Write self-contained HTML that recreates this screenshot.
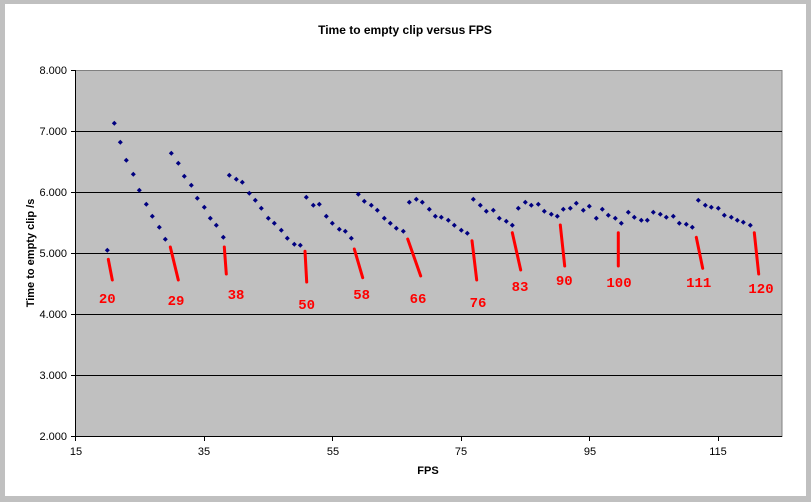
<!DOCTYPE html>
<html><head><meta charset="utf-8"><style>
html,body{margin:0;padding:0;background:#c0c0c0;}
svg{display:block;}
text{font-family:"Liberation Sans",Arial,sans-serif;}
text.r{font-family:"Liberation Mono","DejaVu Sans Mono",monospace;}
</style></head><body>
<svg width="811" height="502" xmlns="http://www.w3.org/2000/svg">
<rect x="0" y="0" width="811" height="502" fill="#c0c0c0"/>
<rect x="5" y="4" width="801" height="492" fill="#ffffff"/>
<rect x="75.5" y="70.5" width="706.5" height="366" fill="#c0c0c0" stroke="#808080" stroke-width="1"/>
<g stroke="#000" stroke-width="1">
<line x1="75.5" y1="131.5" x2="782" y2="131.5"/>
<line x1="75.5" y1="192.5" x2="782" y2="192.5"/>
<line x1="75.5" y1="253.5" x2="782" y2="253.5"/>
<line x1="75.5" y1="314.5" x2="782" y2="314.5"/>
<line x1="75.5" y1="375.5" x2="782" y2="375.5"/>
<line x1="75.5" y1="436.5" x2="782" y2="436.5"/>
<line x1="75.5" y1="70" x2="75.5" y2="437"/>
<line x1="71" y1="70.5" x2="75.5" y2="70.5"/>
<line x1="71" y1="131.5" x2="75.5" y2="131.5"/>
<line x1="71" y1="192.5" x2="75.5" y2="192.5"/>
<line x1="71" y1="253.5" x2="75.5" y2="253.5"/>
<line x1="71" y1="314.5" x2="75.5" y2="314.5"/>
<line x1="71" y1="375.5" x2="75.5" y2="375.5"/>
<line x1="71" y1="436.5" x2="75.5" y2="436.5"/>
<line x1="75.5" y1="436" x2="75.5" y2="441"/>
<line x1="204.5" y1="436" x2="204.5" y2="441"/>
<line x1="332.5" y1="436" x2="332.5" y2="441"/>
<line x1="461.5" y1="436" x2="461.5" y2="441"/>
<line x1="589.5" y1="436" x2="589.5" y2="441"/>
<line x1="718.5" y1="436" x2="718.5" y2="441"/>
</g>
<g font-size="11" fill="#000" text-anchor="end">
<text x="67" y="74">8.000</text>
<text x="67" y="135">7.000</text>
<text x="67" y="196">6.000</text>
<text x="67" y="257">5.000</text>
<text x="67" y="318">4.000</text>
<text x="67" y="379">3.000</text>
<text x="67" y="440">2.000</text>
</g>
<g font-size="11" fill="#000" text-anchor="middle">
<text x="76" y="455">15</text>
<text x="204" y="455">35</text>
<text x="333" y="455">55</text>
<text x="461" y="455">75</text>
<text x="590" y="455">95</text>
<text x="718" y="455">115</text>
</g>
<text x="405" y="34" font-size="12" font-weight="bold" text-anchor="middle">Time to empty clip versus FPS</text>
<text x="428" y="474" font-size="11" font-weight="bold" text-anchor="middle">FPS</text>
<text transform="translate(34,253) rotate(-90)" font-size="11" font-weight="bold" text-anchor="middle">Time to empty clip /s</text>
<g stroke="#ff0000" stroke-width="3" stroke-linecap="round">
<line x1="108.3" y1="259.3" x2="112.3" y2="280"/>
<line x1="170.3" y1="247" x2="178.3" y2="280"/>
<line x1="224.3" y1="247" x2="226.3" y2="274"/>
<line x1="305" y1="251.3" x2="306.7" y2="282"/>
<line x1="354.3" y1="249" x2="362.7" y2="277.7"/>
<line x1="407.7" y1="239" x2="420.7" y2="276"/>
<line x1="472" y1="240.7" x2="476.7" y2="280"/>
<line x1="512.3" y1="232.7" x2="520.7" y2="270"/>
<line x1="560.3" y1="225" x2="564.7" y2="266"/>
<line x1="618.3" y1="232.7" x2="618.3" y2="266"/>
<line x1="696.3" y1="237.3" x2="702.7" y2="268.3"/>
<line x1="754.3" y1="232.7" x2="758.7" y2="274"/>
</g>
<g fill="#ff0000" font-weight="bold" font-size="14" text-anchor="middle">
<text class="r" x="107.3" y="303">20</text>
<text class="r" x="176" y="305">29</text>
<text class="r" x="236" y="299">38</text>
<text class="r" x="306.7" y="309">50</text>
<text class="r" x="361.7" y="299">58</text>
<text class="r" x="418" y="303">66</text>
<text class="r" x="478" y="307">76</text>
<text class="r" x="520" y="291">83</text>
<text class="r" x="564.3" y="285">90</text>
<text class="r" x="619" y="287">100</text>
<text class="r" x="698.7" y="287">111</text>
<text class="r" x="761" y="293">120</text>
</g>
<g fill="#000080">
<path d="M107.3 247.8l2.5 2.5-2.5 2.5-2.5-2.5z M114.3 120.8l2.5 2.5-2.5 2.5-2.5-2.5z M120.3 139.8l2.5 2.5-2.5 2.5-2.5-2.5z M126.3 157.8l2.5 2.5-2.5 2.5-2.5-2.5z M133.3 171.8l2.5 2.5-2.5 2.5-2.5-2.5z M139.3 187.8l2.5 2.5-2.5 2.5-2.5-2.5z M146.3 201.8l2.5 2.5-2.5 2.5-2.5-2.5z M152.3 213.8l2.5 2.5-2.5 2.5-2.5-2.5z M159.3 224.8l2.5 2.5-2.5 2.5-2.5-2.5z M165.3 236.8l2.5 2.5-2.5 2.5-2.5-2.5z
M171.3 150.8l2.5 2.5-2.5 2.5-2.5-2.5z M178.3 160.8l2.5 2.5-2.5 2.5-2.5-2.5z M184.3 173.8l2.5 2.5-2.5 2.5-2.5-2.5z M191.3 182.8l2.5 2.5-2.5 2.5-2.5-2.5z M197.3 195.8l2.5 2.5-2.5 2.5-2.5-2.5z M204.3 204.8l2.5 2.5-2.5 2.5-2.5-2.5z M210.3 215.8l2.5 2.5-2.5 2.5-2.5-2.5z M216.3 222.8l2.5 2.5-2.5 2.5-2.5-2.5z M223.3 234.8l2.5 2.5-2.5 2.5-2.5-2.5z
M229.3 172.8l2.5 2.5-2.5 2.5-2.5-2.5z M236.3 176.8l2.5 2.5-2.5 2.5-2.5-2.5z M242.3 179.8l2.5 2.5-2.5 2.5-2.5-2.5z M249.3 190.8l2.5 2.5-2.5 2.5-2.5-2.5z M255.3 197.8l2.5 2.5-2.5 2.5-2.5-2.5z M261.3 205.8l2.5 2.5-2.5 2.5-2.5-2.5z M268.3 215.8l2.5 2.5-2.5 2.5-2.5-2.5z M274.3 220.8l2.5 2.5-2.5 2.5-2.5-2.5z M281.3 227.8l2.5 2.5-2.5 2.5-2.5-2.5z M287.3 235.8l2.5 2.5-2.5 2.5-2.5-2.5z M294.3 241.8l2.5 2.5-2.5 2.5-2.5-2.5z M300.3 242.8l2.5 2.5-2.5 2.5-2.5-2.5z
M306.3 194.8l2.5 2.5-2.5 2.5-2.5-2.5z M313.3 202.8l2.5 2.5-2.5 2.5-2.5-2.5z M319.3 201.8l2.5 2.5-2.5 2.5-2.5-2.5z M326.3 213.8l2.5 2.5-2.5 2.5-2.5-2.5z M332.3 220.8l2.5 2.5-2.5 2.5-2.5-2.5z M339.3 226.8l2.5 2.5-2.5 2.5-2.5-2.5z M345.3 228.8l2.5 2.5-2.5 2.5-2.5-2.5z M351.3 235.8l2.5 2.5-2.5 2.5-2.5-2.5z
M358.3 191.8l2.5 2.5-2.5 2.5-2.5-2.5z M364.3 198.8l2.5 2.5-2.5 2.5-2.5-2.5z M371.3 202.8l2.5 2.5-2.5 2.5-2.5-2.5z M377.3 207.8l2.5 2.5-2.5 2.5-2.5-2.5z M384.3 215.8l2.5 2.5-2.5 2.5-2.5-2.5z M390.3 220.8l2.5 2.5-2.5 2.5-2.5-2.5z M396.3 225.8l2.5 2.5-2.5 2.5-2.5-2.5z M403.3 228.8l2.5 2.5-2.5 2.5-2.5-2.5z
M409.3 199.8l2.5 2.5-2.5 2.5-2.5-2.5z M416.3 196.8l2.5 2.5-2.5 2.5-2.5-2.5z M422.3 199.8l2.5 2.5-2.5 2.5-2.5-2.5z M429.3 206.8l2.5 2.5-2.5 2.5-2.5-2.5z M435.3 213.8l2.5 2.5-2.5 2.5-2.5-2.5z M441.3 214.8l2.5 2.5-2.5 2.5-2.5-2.5z M448.3 217.8l2.5 2.5-2.5 2.5-2.5-2.5z M454.3 222.8l2.5 2.5-2.5 2.5-2.5-2.5z M461.3 227.8l2.5 2.5-2.5 2.5-2.5-2.5z M467.3 230.8l2.5 2.5-2.5 2.5-2.5-2.5z
M473.3 196.8l2.5 2.5-2.5 2.5-2.5-2.5z M480.3 202.8l2.5 2.5-2.5 2.5-2.5-2.5z M486.3 208.8l2.5 2.5-2.5 2.5-2.5-2.5z M493.3 207.8l2.5 2.5-2.5 2.5-2.5-2.5z M499.3 215.8l2.5 2.5-2.5 2.5-2.5-2.5z M506.3 218.8l2.5 2.5-2.5 2.5-2.5-2.5z M512.3 222.8l2.5 2.5-2.5 2.5-2.5-2.5z
M518.3 205.8l2.5 2.5-2.5 2.5-2.5-2.5z M525.3 199.8l2.5 2.5-2.5 2.5-2.5-2.5z M531.3 202.8l2.5 2.5-2.5 2.5-2.5-2.5z M538.3 201.8l2.5 2.5-2.5 2.5-2.5-2.5z M544.3 208.8l2.5 2.5-2.5 2.5-2.5-2.5z M551.3 211.8l2.5 2.5-2.5 2.5-2.5-2.5z M557.3 213.8l2.5 2.5-2.5 2.5-2.5-2.5z
M563.3 206.8l2.5 2.5-2.5 2.5-2.5-2.5z M570.3 205.8l2.5 2.5-2.5 2.5-2.5-2.5z M576.3 200.8l2.5 2.5-2.5 2.5-2.5-2.5z M583.3 207.8l2.5 2.5-2.5 2.5-2.5-2.5z M589.3 203.8l2.5 2.5-2.5 2.5-2.5-2.5z M596.3 215.8l2.5 2.5-2.5 2.5-2.5-2.5z M602.3 206.8l2.5 2.5-2.5 2.5-2.5-2.5z M608.3 212.8l2.5 2.5-2.5 2.5-2.5-2.5z M615.3 215.8l2.5 2.5-2.5 2.5-2.5-2.5z M621.3 220.8l2.5 2.5-2.5 2.5-2.5-2.5z
M628.3 209.8l2.5 2.5-2.5 2.5-2.5-2.5z M634.3 214.8l2.5 2.5-2.5 2.5-2.5-2.5z M641.3 217.8l2.5 2.5-2.5 2.5-2.5-2.5z M647.3 217.8l2.5 2.5-2.5 2.5-2.5-2.5z M653.3 209.8l2.5 2.5-2.5 2.5-2.5-2.5z M660.3 211.8l2.5 2.5-2.5 2.5-2.5-2.5z M666.3 214.8l2.5 2.5-2.5 2.5-2.5-2.5z M673.3 213.8l2.5 2.5-2.5 2.5-2.5-2.5z M679.3 220.8l2.5 2.5-2.5 2.5-2.5-2.5z M686.3 221.8l2.5 2.5-2.5 2.5-2.5-2.5z M692.3 224.8l2.5 2.5-2.5 2.5-2.5-2.5z
M698.3 197.8l2.5 2.5-2.5 2.5-2.5-2.5z M705.3 202.8l2.5 2.5-2.5 2.5-2.5-2.5z M711.3 204.8l2.5 2.5-2.5 2.5-2.5-2.5z M718.3 205.8l2.5 2.5-2.5 2.5-2.5-2.5z M724.3 212.8l2.5 2.5-2.5 2.5-2.5-2.5z M731.3 214.8l2.5 2.5-2.5 2.5-2.5-2.5z M737.3 217.8l2.5 2.5-2.5 2.5-2.5-2.5z M743.3 219.8l2.5 2.5-2.5 2.5-2.5-2.5z M750.3 222.8l2.5 2.5-2.5 2.5-2.5-2.5z"/>
</g>
</svg>
</body></html>
